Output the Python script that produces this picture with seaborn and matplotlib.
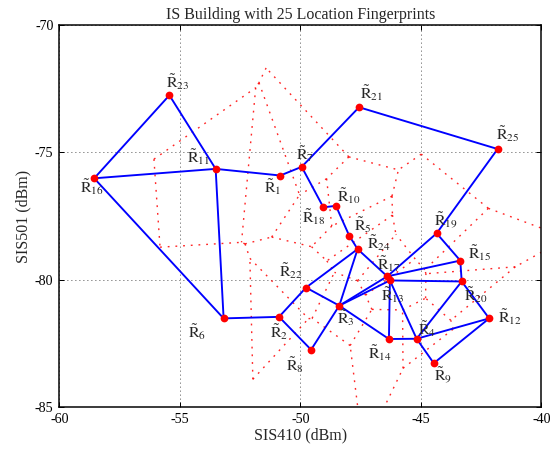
import numpy as np
import pandas as pd
import matplotlib
matplotlib.use("Agg")
import matplotlib.pyplot as plt
import matplotlib.tri as mtri
import seaborn as sns

# Fingerprint locations (signal strength from two access points, dBm)
labels = list(range(1, 26))
sis410 = [-50.84, -50.89, -48.39, -45.18, -47.98, -53.19, -49.95, -49.56, -44.47, -48.53,
          -53.52, -42.17, -46.29, -46.33, -43.37, -58.56, -46.40, -49.05, -44.35, -43.31,
          -47.57, -49.77, -55.44, -47.63, -41.82]
sis501 = [-75.91, -81.46, -81.02, -82.32, -78.27, -81.52, -75.57, -82.75, -83.28, -77.10,
          -75.65, -81.52, -80.03, -82.33, -79.25, -76.02, -79.87, -77.16, -78.18, -80.07,
          -73.23, -80.31, -72.76, -78.80, -74.87]

# Neighbour links between fingerprints
links = [(16, 23), (23, 11), (16, 11), (11, 1), (1, 7), (7, 21), (21, 25), (25, 19),
         (7, 18), (18, 10), (10, 5), (5, 24), (11, 6), (16, 6), (6, 2), (2, 22), (2, 8),
         (8, 3), (22, 24), (22, 3), (3, 24), (24, 17), (3, 17), (3, 13), (17, 13),
         (17, 19), (17, 15), (13, 20), (19, 15), (15, 20), (13, 14), (13, 4), (14, 4),
         (3, 14), (20, 4), (20, 12), (4, 12), (4, 9), (9, 12)]

# label placement (offset of the label centre from its point, in points)
label_offset = {1: (-8, -12), 2: (0, -15), 3: (6.5, -12), 4: (10, 10), 5: (13.5, 11),
                6: (-27, -14), 7: (3, 13), 8: (-16, -15), 9: (9, -13), 10: (13, 10),
                11: (-17, 12), 12: (21, 1.5), 13: (2.5, -15), 14: (-9, -14), 15: (19, 8),
                16: (-2, -9), 17: (2, 12), 18: (-10, -10), 19: (9, 12), 20: (14, -14),
                21: (12.5, 14), 22: (-15, 17), 23: (8, 13), 24: (21, 6), 25: (10, 15)}

sns.set_style("ticks")
plt.rcParams["font.family"] = ["Liberation Serif", "DejaVu Serif"]
plt.rcParams["mathtext.fontset"] = "stix"
plt.rcParams["axes.unicode_minus"] = False

pts = pd.DataFrame({"id": labels, "x": sis410, "y": sis501})
pos = {r.id: (r.x, r.y) for r in pts.itertuples()}

# Voronoi cells: finite edges join circumcentres of adjacent Delaunay triangles
tri = mtri.Triangulation(pts["x"].to_numpy(), pts["y"].to_numpy())
xs, ys = tri.x, tri.y
cc = []
for a, b, c in tri.triangles:
    ax_, ay_, bx_, by_, cx_, cy_ = xs[a], ys[a], xs[b], ys[b], xs[c], ys[c]
    d = 2 * (ax_ * (by_ - cy_) + bx_ * (cy_ - ay_) + cx_ * (ay_ - by_))
    ux = ((ax_**2 + ay_**2) * (by_ - cy_) + (bx_**2 + by_**2) * (cy_ - ay_)
          + (cx_**2 + cy_**2) * (ay_ - by_)) / d
    uy = ((ax_**2 + ay_**2) * (cx_ - bx_) + (bx_**2 + by_**2) * (ax_ - cx_)
          + (cx_**2 + cy_**2) * (bx_ - ax_)) / d
    cc.append((ux, uy))
vor_rows = []
seg = 0
for i, nb in enumerate(tri.neighbors):
    for j in nb:
        if j > i:
            for k in (i, j):
                vor_rows.append({"seg": seg, "x": cc[k][0], "y": cc[k][1]})
            seg += 1
vor = pd.DataFrame(vor_rows)

link_rows = []
for n, (p, q) in enumerate(links):
    for r in (p, q):
        link_rows.append({"link": n, "x": pos[r][0], "y": pos[r][1]})
lk = pd.DataFrame(link_rows)

fig = plt.figure(figsize=(554 / 72, 450 / 72), dpi=72)
ax = fig.add_axes([0.1074, 0.0955, 0.8700, 0.8490])

sns.lineplot(data=vor, x="x", y="y", units="seg", estimator=None, sort=False,
             color="red", lw=1.4, ax=ax, legend=False, zorder=2)
for line in ax.get_lines():
    line.set_linestyle((0, (1.3, 4.2)))
    line.set_alpha(0.85)

sns.lineplot(data=lk, x="x", y="y", units="link", estimator=None, sort=False,
             color="#0000ff", lw=1.9, ax=ax, legend=False, zorder=3)
sns.scatterplot(data=pts, x="x", y="y", color="red", s=60, edgecolor="red",
                linewidth=0, ax=ax, zorder=4, legend=False)

for r in pts.itertuples():
    dx, dy = label_offset[r.id]
    ax.annotate(r"$\tilde{\mathrm{R}}_{%d}$" % r.id, (r.x, r.y), xytext=(dx, dy),
                textcoords="offset points", ha="center", va="center", fontsize=16,
                zorder=5)

ax.set_xlim(-60, -40)
ax.set_ylim(-85, -70)
ax.set_xticks([-60, -55, -50, -45, -40])
ax.set_yticks([-85, -80, -75, -70])
ax.grid(True, color="black", linestyle=(0, (1, 4)), linewidth=0.8)
ax.tick_params(direction="in", length=5, width=1, top=True, right=True,
               labelsize=14, colors="black", pad=6)
for sp in ax.spines.values():
    sp.set_linewidth(1.5)
    sp.set_color("black")
ax.set_xlabel("SIS410 (dBm)", fontsize=16, labelpad=1)
ax.set_ylabel("SIS501 (dBm)", fontsize=16, labelpad=3)
ax.set_title("IS Building with 25 Location Fingerprints", fontsize=16, pad=6)

fig.savefig("out.png", dpi=72)
